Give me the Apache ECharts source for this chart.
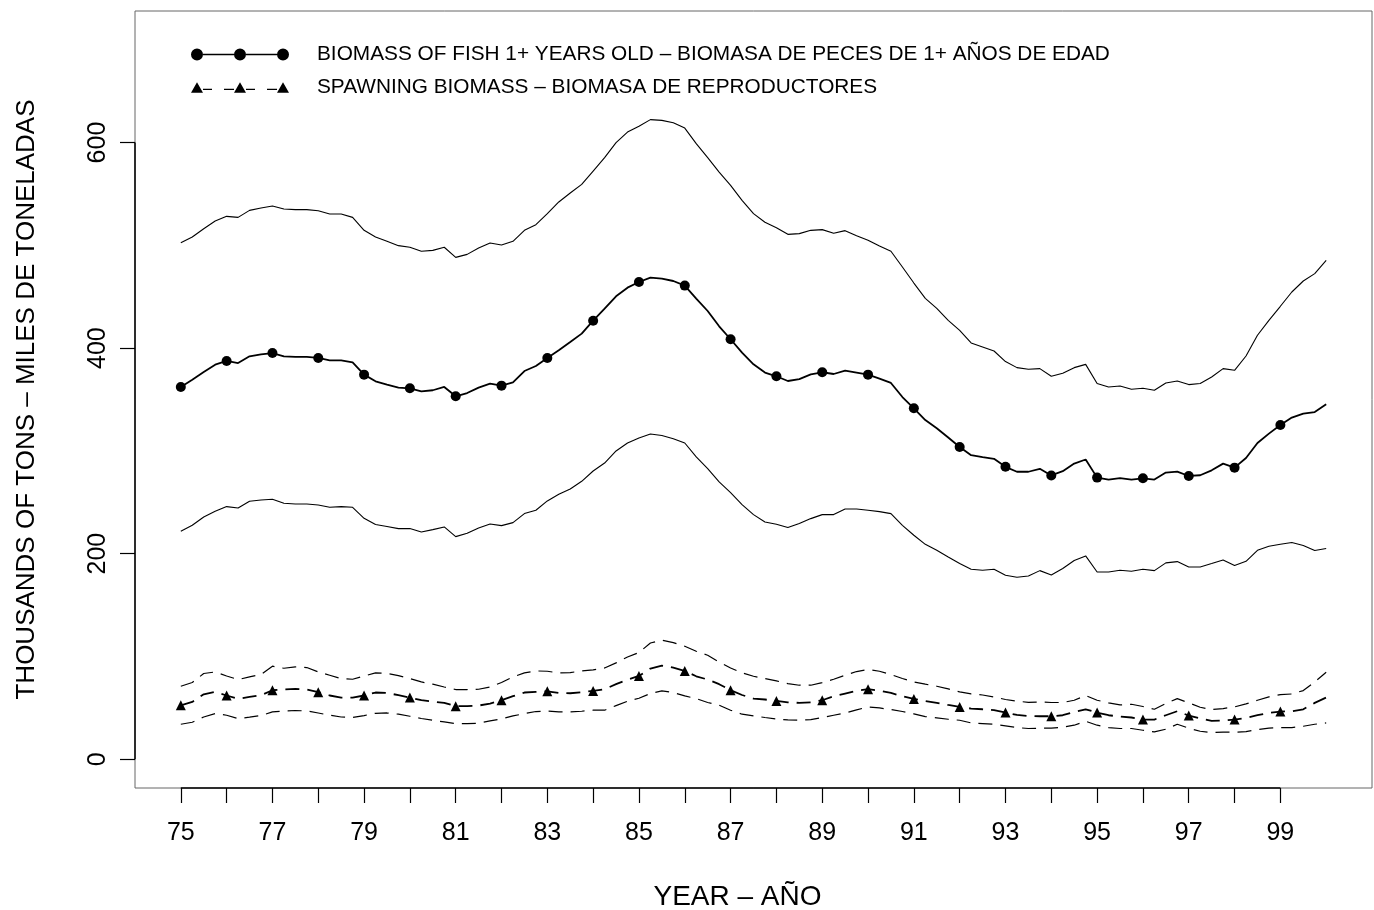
<!DOCTYPE html>
<html><head><meta charset="utf-8">
<script src="https://cdn.jsdelivr.net/npm/echarts@6/dist/echarts.min.js"></script>
<style>html,body{margin:0;padding:0;background:#fff}#c{width:1374px;height:910px}</style>
</head><body><div id="c"></div>
<script>
// ---- data (thousands of tons), quarterly from 1975 to 2000 ----
const startYear = 75;
const quartersPerYear = 4;

const biomass = [
362.2,369.3,376.8,383.9,387.5,385.5,392.0,394.0,395.2,392.0,391.4,391.4,390.4,388.1,388.1,386.2,374.2,367.7,364.5,361.6,360.9,358.0,359.0,362.2,353.1,356.3,361.6,365.5,363.5,366.7,377.7,382.6,390.4,
397.9,405.9,414.1,426.7,438.4,450.4,458.8,464.3,468.6,467.6,465.3,460.8,448.2,436.1,421.2,408.6,395.6,384.2,376.2,372.6,368.0,369.9,374.5,376.5,374.8,378.1,376.2,374.2,370.3,366.1,352.4,
341.4,330.0,322.0,313.0,303.8,
295.8,293.9,292.3,284.5,279.7,279.7,282.6,276.1,280.3,287.7,291.6,274.0,272.1,273.6,272.1,273.3,272.1,278.9,279.9,275.6,276.3,281.1,287.6,283.7,293.1,307.7,316.8,325.2,332.4,336.3,337.8,345.3];

const biomassUpper = [
502.6,508.1,516.2,523.6,528.2,527.2,534.0,536.3,538.2,535.3,534.7,534.7,533.7,530.5,530.5,527.2,514.6,508.1,503.9,499.7,498.1,494.2,495.1,498.1,488.3,491.2,497.4,502.2,500.3,503.9,514.6,520.1,530.8,
542.2,550.9,559.3,572.3,585.3,599.9,610.2,615.8,622.3,621.6,619.3,614.1,598.9,585.3,571.3,558.4,543.8,530.8,522.4,517.2,510.7,511.4,514.6,515.3,511.7,514.3,509.4,504.9,499.3,494.2,478.9,463.3,448.4,438.7,427.0,417.3,
405.0,401.1,397.2,386.9,381.0,379.4,380.0,372.6,375.5,381.0,384.2,365.5,362.2,363.2,359.9,360.9,359.0,366.1,368.0,364.5,365.5,371.9,380.0,378.4,392.3,412.5,427.0,440.7,454.6,465.3,472.5,485.4];

const biomassLower = [
221.8,227.6,235.7,241.2,245.8,244.5,251.0,252.2,252.9,249.0,248.3,248.3,247.4,245.1,245.8,245.1,234.4,228.3,226.4,224.4,224.4,221.1,223.4,226.0,216.6,219.8,225.0,228.9,227.3,230.2,239.0,242.2,251.3,
257.8,262.9,270.4,280.4,288.2,299.9,307.7,312.6,316.4,314.9,311.9,307.7,294.1,282.8,269.8,259.4,247.8,238.0,230.8,228.6,225.4,229.3,234.1,238.0,238.0,243.5,243.5,242.2,240.9,239.0,227.6,217.9,209.1,203.3,196.8,190.4,
184.8,183.9,184.8,179.0,177.0,178.3,183.5,179.3,185.5,193.3,197.8,182.2,182.2,183.9,182.9,184.8,183.5,191.0,192.3,187.1,187.1,190.4,193.9,188.4,192.6,203.3,207.2,209.1,210.8,207.9,203.0,205.0];

const spawning = [
52.5,55.7,63.2,65.5,62.0,58.7,60.6,62.3,67.1,67.8,68.4,67.8,65.2,62.0,60.0,60.0,62.0,64.9,64.5,62.3,60.0,57.4,56.1,54.8,51.6,51.6,52.2,54.2,57.4,61.3,64.9,65.5,66.1,
64.5,64.2,65.2,66.5,68.1,73.0,77.5,81.0,88.2,91.1,89.2,85.9,80.7,77.5,73.0,67.1,62.5,59.0,58.1,56.7,55.4,54.8,55.4,57.4,61.3,63.9,66.5,68.1,66.8,64.5,61.3,58.7,56.7,54.8,52.8,50.9,
49.3,48.6,47.7,45.4,43.1,42.1,41.8,41.8,42.8,46.0,48.6,45.4,42.8,41.5,40.6,38.6,38.6,42.8,46.7,42.5,39.6,37.3,37.6,38.6,40.2,42.8,45.0,46.4,46.7,48.6,54.8,60.0];

const spawningUpper = [
71.0,74.6,83.4,84.9,81.0,77.5,80.1,82.4,90.5,88.5,89.8,89.2,84.9,81.7,78.5,77.8,81.0,84.0,83.4,81.4,78.5,75.2,73.0,70.3,67.8,67.8,68.1,70.3,74.6,80.1,84.0,85.9,85.6,
84.0,84.3,85.9,86.9,88.8,93.7,99.5,103.8,113.1,115.8,113.5,109.9,105.1,101.2,94.6,88.8,84.0,80.7,78.5,76.2,73.6,72.0,72.0,74.6,77.8,81.7,85.3,87.3,85.6,82.4,78.5,75.2,73.0,71.0,68.4,65.5,
63.5,62.5,60.6,58.1,56.4,55.4,55.7,55.2,55.2,57.4,62.0,57.4,54.8,52.8,53.5,51.3,48.6,54.2,59.0,54.8,50.6,48.3,49.3,50.9,53.8,57.4,60.6,62.9,63.5,66.8,75.2,84.6];

const spawningLower = [
34.0,36.0,41.1,44.4,42.8,39.6,40.9,42.5,46.0,47.0,47.4,47.0,45.0,42.8,41.1,40.6,42.5,44.7,45.0,43.8,41.8,39.6,37.9,36.3,34.7,34.7,35.0,37.3,39.2,42.1,44.4,46.4,47.0,
46.0,46.0,46.7,47.7,47.7,52.2,56.4,59.3,63.9,66.5,64.9,61.6,59.0,55.2,52.5,47.7,43.8,42.1,40.6,39.2,38.2,37.9,38.6,40.6,42.8,45.0,48.0,50.9,49.9,48.3,46.4,44.1,41.5,40.2,38.9,37.9,
35.3,34.7,34.0,32.4,30.8,29.9,30.2,30.2,31.1,33.1,37.0,33.1,30.8,29.9,29.9,28.2,26.6,29.2,34.0,30.2,27.2,26.0,26.3,26.3,26.9,28.9,30.2,30.8,30.8,32.1,34.0,35.3];

const xTicks = [75,76,77,78,79,80,81,82,83,84,85,86,87,88,89,90,91,92,93,94,95,96,97,98,99];
const xLabels = [75,77,79,81,83,85,87,89,91,93,95,97,99];
const yTicks = [0,200,400,600];
const xRange = [74,101];
const yRange = [-28,728];

const legendBiomass = 'BIOMASS OF FISH 1+ YEARS OLD – BIOMASA DE PECES DE 1+ AÑOS DE EDAD';
const legendSpawning = 'SPAWNING BIOMASS – BIOMASA DE REPRODUCTORES';
const xTitle = 'YEAR – AÑO';
const yTitle = 'THOUSANDS OF TONS – MILES DE TONELADAS';

// ---- build ----
const quarters = biomass.map((_, i) => startYear + i / quartersPerYear);
const pairs = arr => arr.map((v, i) => [quarters[i], v]);
const yearlySize = size => (val, p) => (p.dataIndex % quartersPerYear === 0 && p.dataIndex < biomass.length - 1) ? size : 0;
const FONT = '"Liberation Sans", Arial, Helvetica, sans-serif';

const circleIcon = 'path://M0,6 A6,6 0 1,0 12,6 A6,6 0 1,0 0,6 Z M43,6 A6,6 0 1,0 55,6 A6,6 0 1,0 43,6 Z M86,6 A6,6 0 1,0 98,6 A6,6 0 1,0 86,6 Z M12,5.2 L43,5.2 L43,6.8 L12,6.8 Z M55,5.2 L86,5.2 L86,6.8 L55,6.8 Z';
const triIcon = 'path://M0,11 L6,0.5 L12,11 Z M43,11 L49,0.5 L55,11 Z M86,11 L92,0.5 L98,11 Z M12,6.9 L21,6.9 L21,8.3 L12,8.3 Z M33,6.9 L43,6.9 L43,8.3 L33,8.3 Z M55,6.9 L64,6.9 L64,8.3 L55,8.3 Z M76,6.9 L86,6.9 L86,8.3 L76,8.3 Z';

const thin = {color: '#000', width: 1.1};
const dashThin = {color: '#000', width: 1.2, type: [14, 8]};

const chart = echarts.init(document.getElementById('c'), null, {renderer: 'canvas'});
chart.setOption({
  animation: false,
  backgroundColor: '#fff',
  textStyle: {fontFamily: FONT},
  grid: {left: 135, right: 2, top: 11, bottom: 122, show: true, borderColor: '#666', borderWidth: 1, outerBoundsMode: 'none'},
  legend: {
    left: 191, top: 42, orient: 'vertical', padding: 0, itemGap: 8,
    itemWidth: 98, itemHeight: 12, selectedMode: false,
    textStyle: {fontSize: 20.8, color: '#000', fontFamily: FONT, padding: [0, 0, 0, 23], lineHeight: 25},
    data: [{name: legendBiomass, icon: circleIcon, itemStyle: {color: '#000'}},
           {name: legendSpawning, icon: triIcon, itemStyle: {color: '#000'}}]
  },
  xAxis: {
    type: 'value', min: xRange[0], max: xRange[1],
    name: xTitle, nameLocation: 'middle', nameGap: 95,
    nameTextStyle: {fontSize: 28, color: '#000', fontFamily: FONT, padding: [0, 32, 0, 0]},
    axisLine: {show: false, onZero: false},
    axisTick: {show: true, customValues: xTicks, length: 15, inside: false, lineStyle: {color: '#000', width: 1.2}},
    axisLabel: {customValues: xLabels, fontSize: 25, color: '#000', margin: 33, fontFamily: FONT},
    splitLine: {show: false}
  },
  yAxis: {
    type: 'value', min: yRange[0], max: yRange[1],
    name: yTitle, nameLocation: 'middle', nameGap: 95,
    nameTextStyle: {fontSize: 26, color: '#000', fontFamily: FONT},
    axisLine: {show: false, onZero: false},
    axisTick: {show: true, customValues: yTicks, length: 15, inside: false, lineStyle: {color: '#000', width: 1.2}},
    axisLabel: {customValues: yTicks, fontSize: 25, color: '#000', margin: 24, rotate: 90, fontFamily: FONT},
    splitLine: {show: false}
  },
  series: [
    {type: 'line', data: pairs(biomassUpper), symbol: 'none', lineStyle: thin, silent: true},
    {type: 'line', data: pairs(biomassLower), symbol: 'none', lineStyle: thin, silent: true},
    {name: legendBiomass, type: 'line', data: pairs(biomass), symbol: 'circle', symbolSize: yearlySize(10), showAllSymbol: true,
     lineStyle: {color: '#000', width: 1.8}, itemStyle: {color: '#000'}, silent: true},
    {type: 'line', data: pairs(spawningUpper), symbol: 'none', lineStyle: dashThin, silent: true},
    {type: 'line', data: pairs(spawningLower), symbol: 'none', lineStyle: dashThin, silent: true},
    {name: legendSpawning, type: 'line', data: pairs(spawning), symbol: 'triangle', symbolSize: yearlySize(10), showAllSymbol: true,
     lineStyle: {color: '#000', width: 1.8, type: [14, 8]}, itemStyle: {color: '#000'}, silent: true},
    // axis lines (R style: from first to last tick)
    {type: 'line', data: [[xTicks[0], yRange[0]], [xTicks[xTicks.length - 1], yRange[0]]], symbol: 'none', clip: false, silent: true,
     lineStyle: {color: '#000', width: 1.5}},
    {type: 'line', data: [[xRange[0], yTicks[0]], [xRange[0], yTicks[yTicks.length - 1]]], symbol: 'none', clip: false, silent: true,
     lineStyle: {color: '#000', width: 1.5}}
  ]
});
</script></body></html>
